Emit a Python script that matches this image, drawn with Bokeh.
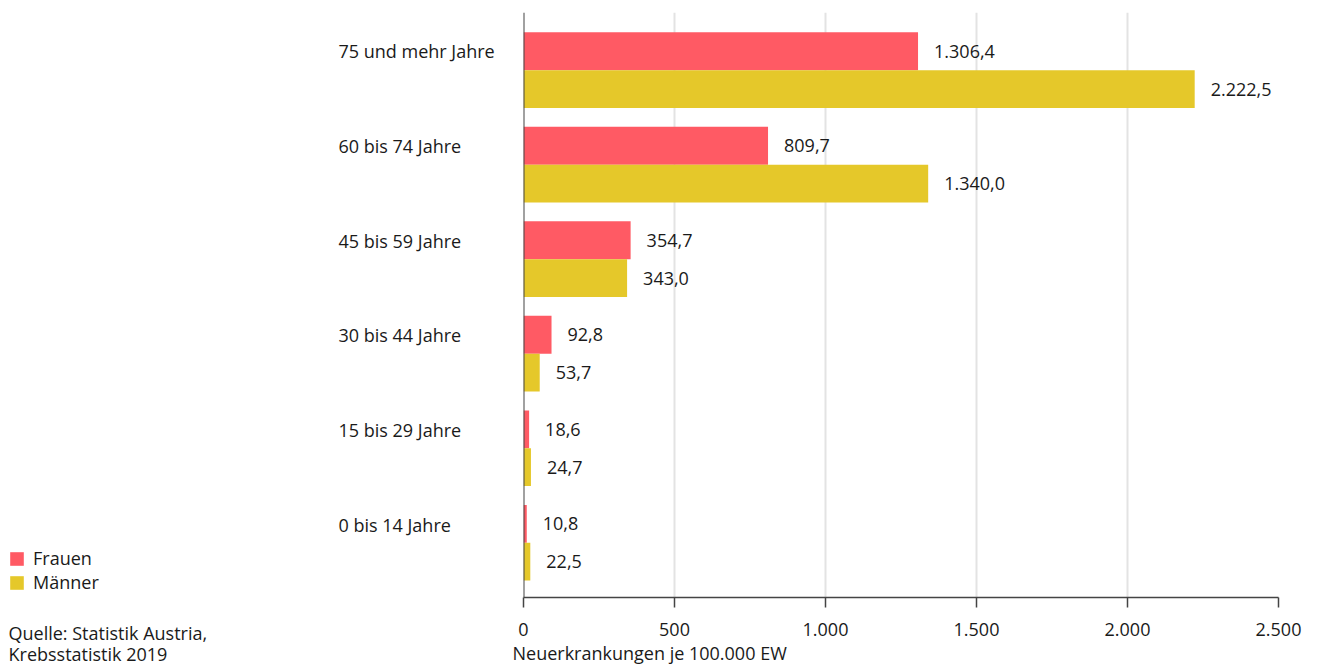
from bokeh.plotting import figure
from bokeh.layouts import row
from bokeh.models import Range1d, Span, Legend, LegendItem, FixedTicker, Title
from bokeh.core.properties import value
from bokeh.embed import file_html
from bokeh.resources import INLINE

categories = ["0 bis 14 Jahre", "15 bis 29 Jahre", "30 bis 44 Jahre",
              "45 bis 59 Jahre", "60 bis 74 Jahre", "75 und mehr Jahre"]
frauen = [10.8, 18.6, 92.8, 354.7, 809.7, 1306.4]
maenner = [22.5, 24.7, 53.7, 343.0, 1340.0, 2222.5]
x_ticks = [0, 500, 1000, 1500, 2000, 2500]
x_tick_labels = ["0", "500", "1.000", "1.500", "2.000", "2.500"]
series_names = ["Frauen", "Männer"]
colors = ["#FF5A64", "#E5C82A"]
x_title = "Neuerkrankungen je 100.000 EW"
source_text = "Quelle: Statistik Austria,\nKrebsstatistik 2019"

FONT = "Open Sans"
FS = "18px"
TXT = "#1a1a1a"

W, H = 1321, 664
LEFT_W = 505
TOP, BOTTOM = 12, 66
FRAME_W, FRAME_H = 755, 586


def de_fmt(v):
    s = f"{v:,.1f}"
    return s.replace(",", "X").replace(".", ",").replace("X", ".")


idx = list(range(len(categories)))
y_f = [i + 0.2 for i in idx]
y_m = [i - 0.2 for i in idx]
y_range = Range1d(-0.58, 5.61)

# ---------------- main chart ----------------
p = figure(frame_width=FRAME_W, frame_height=FRAME_H,
           min_border_left=18, min_border_right=43,
           min_border_top=TOP, min_border_bottom=BOTTOM,
           x_range=Range1d(0, 2500), y_range=y_range,
           output_backend="svg", toolbar_location=None)
p.outline_line_color = None
p.background_fill_color = "white"
p.border_fill_color = "white"

p.ygrid.visible = False
p.xgrid.grid_line_color = "#e3e3e3"
p.xgrid.grid_line_width = 2
p.yaxis.visible = False

ax = p.xaxis[0]
ax.ticker = FixedTicker(ticks=x_ticks)
ax.major_label_overrides = {t: l for t, l in zip(x_ticks, x_tick_labels)}
ax.axis_line_color = "#444444"
ax.axis_line_width = 1.5
ax.major_tick_line_color = "#444444"
ax.major_tick_line_width = 1.5
ax.major_tick_in = 0
ax.major_tick_out = 10
ax.minor_tick_line_color = None
ax.major_label_standoff = 15
ax.major_label_text_font = FONT
ax.major_label_text_font_size = FS
ax.major_label_text_color = TXT

p.add_layout(Title(text=x_title, align="left", offset=-11, standoff=0,
                   text_font=FONT, text_font_size=FS, text_font_style="normal",
                   text_color=TXT), "below")

rf = p.hbar(y=y_f, left=0, right=frauen, height=0.4, color=colors[0], line_color=None)
rm = p.hbar(y=y_m, left=0, right=maenner, height=0.4, color=colors[1], line_color=None)

p.text(x=frauen, y=y_f, text=[de_fmt(v) for v in frauen], x_offset=16,
       text_baseline="middle", text_align="left", text_font=value(FONT),
       text_font_size=FS, text_color=TXT)
p.text(x=maenner, y=y_m, text=[de_fmt(v) for v in maenner], x_offset=16,
       text_baseline="middle", text_align="left", text_font=value(FONT),
       text_font_size=FS, text_color=TXT)

p.add_layout(Span(location=0, dimension="height", line_color="#444444", line_width=2))

# ---------------- left panel: category labels, legend, source ----------------
left = figure(frame_width=LEFT_W, frame_height=FRAME_H,
              min_border_left=0, min_border_right=0,
              min_border_top=TOP, min_border_bottom=BOTTOM,
              x_range=Range1d(0, LEFT_W), y_range=y_range,
              x_axis_type=None, y_axis_type=None,
              output_backend="svg", toolbar_location=None)
left.outline_line_color = None
left.grid.visible = False
left.background_fill_color = "white"
left.border_fill_color = "white"

left.text(x=[338] * len(categories), y=y_f, text=categories,
          text_baseline="middle", text_align="left", text_font=value(FONT),
          text_font_size=FS, text_color=TXT)

# legend proxies (same data, hidden) so the legend can live in this panel
lf = left.hbar(y=y_f, left=0, right=frauen, height=0.4, color=colors[0],
               line_color=None, visible=False)
lm = left.hbar(y=y_m, left=0, right=maenner, height=0.4, color=colors[1],
               line_color=None, visible=False)
legend = Legend(items=[LegendItem(label=series_names[0], renderers=[lf]),
                       LegendItem(label=series_names[1], renderers=[lm])],
                location=(8, 4), orientation="vertical",
                glyph_width=17, glyph_height=17,
                spacing=0, padding=0, margin=0, label_standoff=8,
                border_line_color=None, background_fill_alpha=0,
                inactive_fill_alpha=0,
                label_text_font=FONT, label_text_font_size=FS,
                label_text_color=TXT, label_text_baseline="middle")
left.add_layout(legend, "center")

# blank spacer line, then the two-line source note
left.add_layout(Title(text=" ", align="left", offset=8, standoff=0,
                      text_font=FONT, text_font_size=FS, text_font_style="normal",
                      text_color=TXT), "below")
left.add_layout(Title(text=source_text, align="left", offset=8, standoff=-12,
                      text_font=FONT, text_font_size=FS, text_font_style="normal",
                      text_color=TXT, text_line_height=0.9), "below")

layout = row(left, p, width=W, height=H, styles={"overflow": "hidden"})
open("out.html", "w").write(file_html(layout, INLINE))
